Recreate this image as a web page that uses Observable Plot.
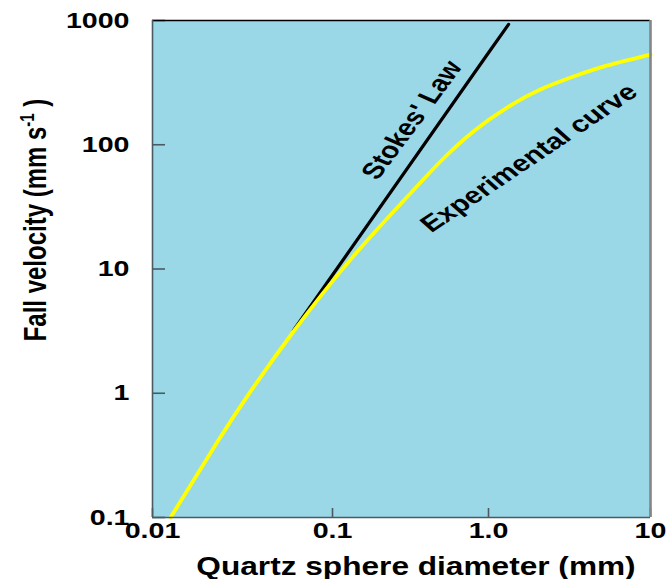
<!DOCTYPE html>
<html><head><meta charset="utf-8">
<script src="https://cdn.jsdelivr.net/npm/d3@7"></script>
<script src="https://cdn.jsdelivr.net/npm/@observablehq/plot@0.6"></script>
<style>
html,body{margin:0;padding:0;background:#fff;}
#chart svg{display:block;}
</style></head><body><div id="chart"></div>
<script>
// Axis ticks
const xTicks = [0.01, 0.1, 1, 10];
const xTickLabels = ["0.01", "0.1", "1.0", "10"];
const yTicks = [0.1, 1, 10, 100, 1000];
const yTickLabels = ["0.1", "1", "10", "100", "1000"];

// Experimental curve (diameter mm, velocity mm/s)
const expDiameter = [0.0126, 0.023, 0.035, 0.0607, 0.1304, 0.3026, 0.492, 0.80, 1.31, 2.09, 3.35, 5.43, 10];
const expVelocity = [0.1, 0.409, 1.03, 3.14, 11.9, 38.3, 73.3, 127.8, 200, 278, 354, 435, 532];

// Stokes' Law line
const stokesDiameter = [0.0607, 0.1, 1, 1.33];
const stokesVelocity = [3.2, 8.95, 550, 930];

// Curve labels
const labelText = ["Stokes' Law", "Experimental curve"];
const labelDiameter = [0.3235, 1.778];
const labelVelocity = [158, 78];
const labelAngle = [-60, -41];

const expData = expDiameter.map((d, i) => ({d, v: expVelocity[i]}));
const stokesData = stokesDiameter.map((d, i) => ({d, v: stokesVelocity[i]}));
const curveLabels = labelText.map((t, i) => ({text: t, d: labelDiameter[i], v: labelVelocity[i], angle: labelAngle[i]}));

const axisColor = "#4b5a62";
const fontH = "'Liberation Sans', Arial, sans-serif";

const chart = Plot.plot({
  width: 668, height: 579,
  marginLeft: 152, marginRight: 18, marginTop: 20, marginBottom: 62,
  style: {fontFamily: fontH, fontWeight: "bold", background: "#fff", overflow: "visible", color: "#000"},
  x: {type: "log", domain: xTicks, range: [152, 332, 488, 650]},
  y: {type: "log", domain: [yTicks[0], yTicks[yTicks.length - 1]], range: [517, 20]},
  marks: [
    Plot.frame({fill: "#9AD8E8", stroke: null}),
    Plot.tickX(xTicks, {x: d => d, stroke: axisColor, strokeWidth: 1.6, insetTop: 488}),
    Plot.tickY(yTicks, {y: d => d, stroke: axisColor, strokeWidth: 1.6, insetRight: 485}),
    Plot.line(stokesData, {x: "d", y: "v", stroke: "#000", strokeWidth: 3.2}),
    Plot.line(expData, {x: "d", y: "v", stroke: "#FFFF00", strokeWidth: 3.8, curve: "natural"}),
    Plot.ruleY([yTicks[yTicks.length - 1]], {stroke: "#000", strokeWidth: 1.6}),
    Plot.ruleY([yTicks[0]], {stroke: axisColor, strokeWidth: 1.6}),
    Plot.ruleX([xTicks[0]], {stroke: axisColor, strokeWidth: 1.6}),
    Plot.ruleX([xTicks[xTicks.length - 1]], {stroke: "#858585", strokeWidth: 2.6}),
    Plot.text(curveLabels, {x: "d", y: "v", text: "text", rotate: "angle", fontSize: 23, fontWeight: "bold", fill: "#000", fontFamily: fontH}),
    Plot.axisX(xTicks, {tickSize: 0, tickPadding: 5, tickFormat: d => xTickLabels[xTicks.indexOf(d)], fontSize: 22, fontWeight: "bold", fontFamily: fontH, label: null}),
    Plot.axisY(yTicks, {tickSize: 0, tickPadding: 23, tickFormat: d => yTickLabels[yTicks.indexOf(d)], fontSize: 22, fontWeight: "bold", fontFamily: fontH, label: null})
  ]
});
document.getElementById("chart").appendChild(chart);

const svg = d3.select(chart);
// Horizontal stretch of text, as in the original figure
function stretch(sel, k) {
  sel.each(function () {
    const t = d3.select(this);
    const tr = t.attr("transform") || "";
    const nt = tr.includes("rotate")
      ? tr.replace("rotate", `scale(${k},1) rotate`)
      : `${tr} scale(${k},1)`;
    t.attr("transform", nt);
  });
}
stretch(svg.selectAll('g[aria-label="x-axis tick label"] text'), 1.3);
stretch(svg.selectAll('g[aria-label="y-axis tick label"] text'), 1.3);
stretch(svg.selectAll('g[aria-label="text"] text'), 1.3);

// Axis titles
svg.append("text")
  .attr("transform", "translate(416,575) scale(1.265,1)")
  .attr("text-anchor", "middle")
  .attr("font-family", fontH).attr("font-weight", "bold").attr("font-size", 25).attr("fill", "#000")
  .text("Quartz sphere diameter (mm)");

const yl = svg.append("text")
  .attr("transform", "translate(46,220) scale(1.34,1) rotate(-90)")
  .attr("text-anchor", "middle")
  .attr("font-family", fontH).attr("font-weight", "bold").attr("font-size", 24).attr("fill", "#000");
yl.append("tspan").text("Fall velocity (mm s");
yl.append("tspan").attr("font-size", 15).attr("dy", -9).text("-1");
yl.append("tspan").attr("dy", 9).text(" )");
</script>
</body></html>
